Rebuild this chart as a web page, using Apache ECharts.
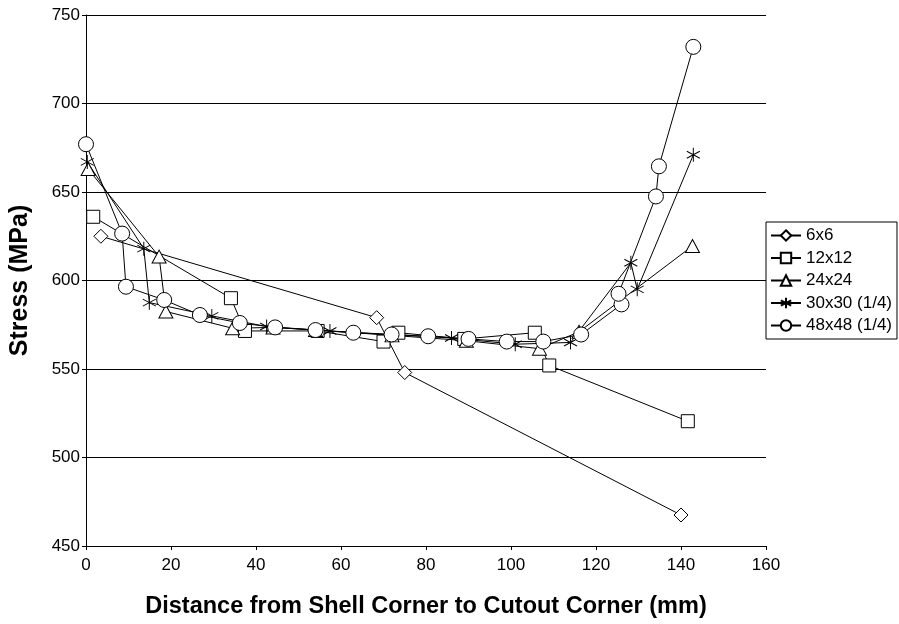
<!DOCTYPE html>
<html>
<head>
<meta charset="utf-8">
<script src="https://cdn.jsdelivr.net/npm/echarts@6/dist/echarts.min.js"></script>
<style>html,body{margin:0;padding:0;background:#fff}#c{width:899px;height:624px}</style>
</head>
<body>
<div id="c"></div>
<script>
const xTicks = [0, 20, 40, 60, 80, 100, 120, 140, 160];
const yTicks = [450, 500, 550, 600, 650, 700, 750];
const seriesNames = ['6x6', '12x12', '24x24', '30x30 (1/4)', '48x48 (1/4)'];

const s6x6 = [[3.5,625],[68.4,579],[75,548],[140,467.5]];
const s12x12 = [[1.7,636],[34.1,590],[37.4,571.5],[54.5,571.5],[70,565.5],[73.5,570.5],[89,567],[105.6,570.5],[109,552],[141.6,520.5]];
const s24x24 = [[0.5,663],[17.2,613.5],[18.8,582.5],[34.5,573],[44,573.5],[54,572],[72,569],[89.5,566],[106.7,561.5],[116,571],[142.7,619.5]];
const s30x30 = [[0.3,667],[13.6,618],[14.9,587.5],[29.6,580],[42.5,574],[57.4,571.5],[86,567.5],[101,564],[114,565],[128.2,610],[129.7,595],[142.9,671]];
const s48x48 = [[0,677],[8.5,626.5],[9.4,596.5],[18.4,589],[26.8,580.5],[36.2,576],[44.5,573.5],[54,572],[62.9,570.5],[71.9,569.5],[80.5,568.5],[90,567],[99,565.5],[107.6,565.5],[116.5,569.5],[126,586.5],[125.3,592.5],[134.1,647.5],[134.8,664.5],[142.9,732]];

const starPath = 'path://M0,-10L0,10M-8.66,-5L8.66,5M-8.66,5L8.66,-5';
const FONT = '"Liberation Sans", Arial, sans-serif';

function mk(name, data, symbol, size, fill) {
  return {
    name: name, type: 'line', data: data, symbol: symbol, symbolSize: size,
    showSymbol: true, animation: false,
    lineStyle: { color: '#000', width: 1 },
    itemStyle: { color: fill, borderColor: '#000', borderWidth: 1 },
    emphasis: { disabled: true }
  };
}

const chart = echarts.init(document.getElementById('c'), null, { renderer: 'canvas' });
chart.setOption({
  backgroundColor: '#fff',
  animation: false,
  grid: { left: 86, right: 133, top: 15, bottom: 77, containLabel: false },
  legend: {
    orient: 'vertical', left: 766, top: 222,
    backgroundColor: '#fff', borderColor: '#000', borderWidth: 1,
    padding: [5, 5, 5, 4], itemGap: 5.5, itemWidth: 30, itemHeight: 13,
    textStyle: { fontFamily: FONT, fontSize: 17, color: '#000' },
    data: seriesNames
  },
  xAxis: {
    type: 'value', min: xTicks[0], max: xTicks[xTicks.length - 1], interval: 20,
    name: 'Distance from Shell Corner to Cutout Corner (mm)',
    nameLocation: 'middle', nameGap: 49,
    nameTextStyle: { fontFamily: FONT, fontSize: 23.5, fontWeight: 'bold', color: '#000' },
    axisLine: { show: true, lineStyle: { color: '#000', width: 1 } },
    axisTick: { show: true, length: 4, lineStyle: { color: '#000' } },
    axisLabel: { fontFamily: FONT, fontSize: 17, color: '#000', margin: 11 },
    splitLine: { show: false }
  },
  yAxis: {
    type: 'value', min: yTicks[0], max: yTicks[yTicks.length - 1], interval: 50,
    name: 'Stress (MPa)', nameLocation: 'middle', nameGap: 53,
    nameTextStyle: { fontFamily: FONT, fontSize: 25, fontWeight: 'bold', color: '#000' },
    axisLine: { show: true, lineStyle: { color: '#000', width: 1 } },
    axisTick: { show: true, length: 4, lineStyle: { color: '#000' } },
    axisLabel: { fontFamily: FONT, fontSize: 17, color: '#000', margin: 6 },
    splitLine: { show: true, lineStyle: { color: '#000', width: 1 } }
  },
  series: [
    mk(seriesNames[0], s6x6, 'diamond', [14, 14], '#fff'),
    mk(seriesNames[1], s12x12, 'rect', [13, 13], '#fff'),
    mk(seriesNames[2], s24x24, 'triangle', [14, 13], '#fff'),
    mk(seriesNames[3], s30x30, starPath, [13, 14], 'rgba(0,0,0,0)'),
    mk(seriesNames[4], s48x48, 'circle', [15, 15], '#fff')
  ]
});
</script>
</body>
</html>
